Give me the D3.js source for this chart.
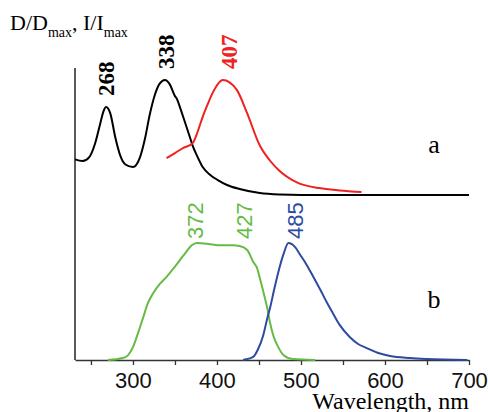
<!DOCTYPE html>
<html>
<head>
<meta charset="utf-8">
<script src="https://cdn.jsdelivr.net/npm/d3@7"></script>
<style>
  body { margin: 0; background: #fff; }
  svg { display: block; }
</style>
</head>
<body>
<script>
// spectra, normalised to 1 at the max
var absWl  = [231, 240, 248, 255, 261, 265, 268, 273, 279, 285, 291, 300, 308, 314, 320, 326, 332, 338, 344, 350, 352, 357, 362, 367, 371, 377, 383, 392, 401, 412, 427, 451, 475, 500, 600, 700];
var absVal = [0.31, 0.295, 0.33, 0.45, 0.62, 0.73, 0.765, 0.71, 0.50, 0.34, 0.265, 0.243, 0.32, 0.48, 0.70, 0.87, 0.97, 1.0, 0.96, 0.86, 0.84, 0.74, 0.63, 0.52, 0.43, 0.33, 0.243, 0.174, 0.13, 0.087, 0.052, 0.017, 0.004, 0, 0, 0];

var emAWl  = [340, 350, 360, 371, 377, 383, 389, 395, 401, 407, 415, 424, 436, 451, 463, 473, 495, 522, 546, 572];
var emAVal = [0.32, 0.365, 0.41, 0.45, 0.55, 0.68, 0.79, 0.89, 0.965, 1.0, 0.98, 0.91, 0.71, 0.43, 0.30, 0.22, 0.11, 0.06, 0.04, 0.026];

var exWl  = [270, 288, 294, 300, 306, 312, 318, 324, 332, 340, 348, 356, 363, 370, 376, 392, 404, 419, 427, 436, 443, 448, 451, 456, 460, 463, 467, 473, 479, 490, 517];
var exVal = [0, 0.017, 0.04, 0.11, 0.23, 0.36, 0.49, 0.57, 0.65, 0.71, 0.78, 0.855, 0.92, 0.98, 1.0, 0.99, 0.98, 0.98, 0.975, 0.94, 0.84, 0.78, 0.70, 0.56, 0.44, 0.325, 0.21, 0.11, 0.043, 0.009, 0];

var emBWl  = [431, 443, 449, 455, 460, 463, 468, 473, 479, 485, 493, 499, 507, 514, 523, 531, 538, 546, 558, 568, 579, 592, 606, 630, 650, 698];
var emBVal = [0, 0.026, 0.094, 0.21, 0.36, 0.44, 0.60, 0.75, 0.90, 1.0, 0.965, 0.90, 0.81, 0.72, 0.60, 0.49, 0.40, 0.30, 0.197, 0.137, 0.10, 0.06, 0.034, 0.017, 0.009, 0];

var xTicks = [250, 300, 350, 400, 450, 500, 550, 600, 650, 700];
var peaksTop = [268, 338, 407];
var peaksBottom = [372, 427, 485];

var W = 488, H = 412;
var svg = d3.select('body').append('svg')
    .attr('width', W)
    .attr('height', H);

var x = d3.scaleLinear().domain([231, 700]).range([75, 469]);
var yTop = d3.scaleLinear().domain([0, 1]).range([195, 80]);
var yBot = d3.scaleLinear().domain([0, 1]).range([360, 243]);

function zipUp(wl, val) {
  return wl.map(function (w, i) { return {w: w, v: val[i]}; });
}

function drawCurve(data, y, color) {
  var line = d3.line()
      .x(function (d) { return x(d.w); })
      .y(function (d) { return y(d.v); })
      .curve(d3.curveMonotoneX);
  svg.append('path')
      .datum(data)
      .attr('d', line)
      .attr('fill', 'none')
      .attr('stroke', color)
      .attr('stroke-width', 2)
      .attr('stroke-linejoin', 'round');
}

var RED = '#ee2222', BLACK = '#000', GREEN = '#66bb44', BLUE = '#2d4ba0';

// axes
svg.append('line')
    .attr('x1', 75).attr('x2', 75)
    .attr('y1', 68).attr('y2', 360)
    .attr('stroke', '#222').attr('stroke-width', 1.5);

var xAxis = d3.axisBottom(x)
    .tickValues(xTicks)
    .tickSize(5)
    .tickSizeOuter(0)
    .tickPadding(7)
    .tickFormat(function (d) { return d % 100 === 0 ? d : ''; });

var gx = svg.append('g')
    .attr('transform', 'translate(0,360)')
    .call(xAxis);
gx.select('.domain').attr('stroke', '#333').attr('stroke-width', 1.5);
gx.selectAll('.tick line').attr('stroke', '#333').attr('stroke-width', 1.3);
gx.selectAll('.tick text')
    .attr('font-family', 'Liberation Sans, Arial, sans-serif')
    .attr('font-size', '22px')
    .attr('fill', '#111');

// curves
drawCurve(zipUp(absWl, absVal), yTop, BLACK);
drawCurve(zipUp(emAWl, emAVal), yTop, RED);
drawCurve(zipUp(exWl, exVal), yBot, GREEN);
drawCurve(zipUp(emBWl, emBVal), yBot, BLUE);

// peak labels
var topColors = [BLACK, BLACK, RED];
var topY = [96, 69, 69];
var topDx = [8, 9, 14];
peaksTop.forEach(function (p, i) {
  var px = x(p) + topDx[i], py = topY[i];
  svg.append('text')
      .attr('transform', 'translate(' + px + ',' + py + ') rotate(-90)')
      .attr('font-family', 'Liberation Serif, Times New Roman, serif')
      .attr('font-weight', 'bold')
      .attr('font-size', '23px')
      .attr('fill', topColors[i])
      .text(p);
});

var botColors = [GREEN, GREEN, BLUE];
var botDx = [10, 12, 15];
peaksBottom.forEach(function (p, i) {
  var px = x(p) + botDx[i];
  svg.append('text')
      .attr('transform', 'translate(' + px + ',239) rotate(-90)')
      .attr('font-family', 'Liberation Sans, Arial, sans-serif')
      .attr('font-size', '22px')
      .attr('fill', botColors[i])
      .text(p);
});

// panel letters
svg.append('text')
    .attr('x', 434).attr('y', 153)
    .attr('text-anchor', 'middle')
    .attr('font-family', 'Liberation Serif, Times New Roman, serif')
    .attr('font-size', '26px')
    .text('a');
svg.append('text')
    .attr('x', 434).attr('y', 308)
    .attr('text-anchor', 'middle')
    .attr('font-family', 'Liberation Serif, Times New Roman, serif')
    .attr('font-size', '26px')
    .text('b');

// y title
var title = svg.append('text')
    .attr('x', 10).attr('y', 30)
    .attr('font-family', 'Liberation Serif, Times New Roman, serif')
    .attr('font-size', '22px');
title.append('tspan').text('D/D');
title.append('tspan').attr('font-size', '14px').attr('dy', 7).text('max');
title.append('tspan').attr('dy', -7).text(', I/I');
title.append('tspan').attr('font-size', '14px').attr('dy', 7).text('max');

// x title
svg.append('text')
    .attr('x', 469).attr('y', 409)
    .attr('text-anchor', 'end')
    .attr('font-family', 'Liberation Serif, Times New Roman, serif')
    .attr('font-size', '24px')
    .text('Wavelength, nm');
</script>
</body>
</html>
